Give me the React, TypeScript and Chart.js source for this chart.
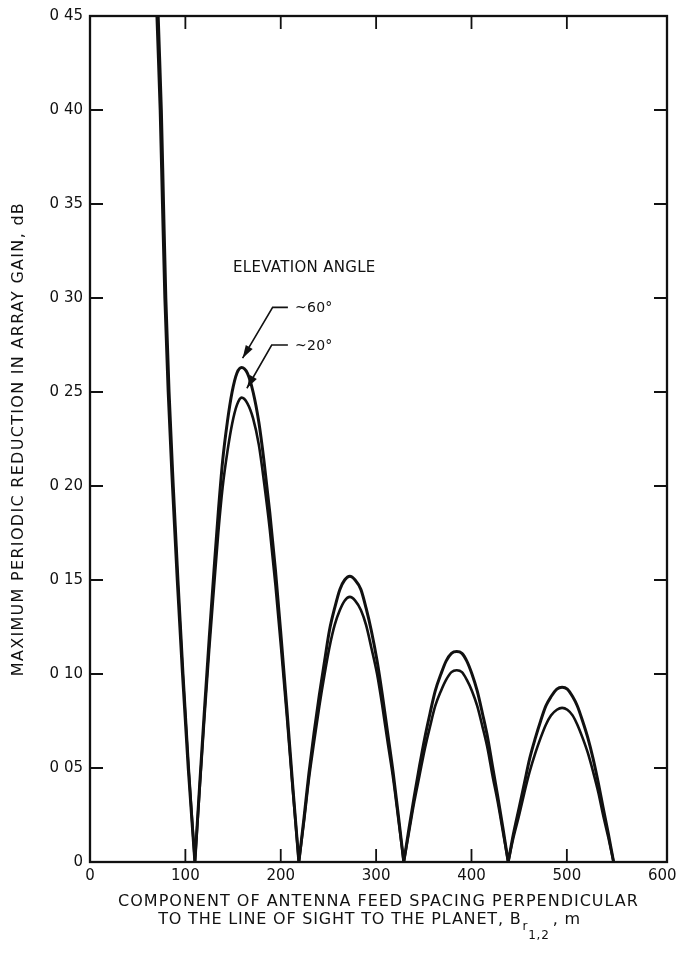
import React, { useEffect, useRef } from "react";
import { Chart, registerables } from "chart.js";

Chart.register(...registerables);

// ---- data ----
const elevationLabels = ["~60°", "~20°"];

// main lobe (both curves nearly coincide)
const mainLobeLevels = [0.5, 0.45, 0.4, 0.35, 0.3, 0.25, 0.2, 0.15, 0.1, 0.05, 0];
const mainLobeSpacing60 = [67.5, 70.2, 73.6, 76, 78.5, 82, 86.5, 91.5, 97, 103, 110];
const mainLobeSpacing20 = [69, 71.7, 75, 77.3, 79.7, 83.1, 87.5, 92.4, 97.7, 103.5, 110];

// side lobes (null = break between lobes)
const sideLobeSpacing = [
  110, 115, 120, 125, 130, 134.5, 139, 144, 149, 154, 159, 165, 171, 177, 182.5, 188.5, 194.5, 200.5, 206.5, 212.5, 219,
  219,
  219, 224.5, 229.5, 235, 240.5, 246, 251, 256.5, 262, 267, 272.5, 278, 284, 289.5, 295, 301, 306.5, 312, 318, 323.5, 329,
  329,
  329, 334.5, 340, 345.5, 351, 356.5, 362, 368, 373.5, 379, 384.5, 390, 395, 400.5, 406, 411.5, 417, 422, 427.5, 433, 438.5,
  438.5,
  438.5, 444, 450, 455.5, 461, 467, 472.5, 478, 483.5, 489.5, 495, 500.5, 506, 511, 516.5, 522, 527.5, 533, 538, 543.5, 549,
];
const sideLobes60 = [
  0, 0.041, 0.081, 0.119, 0.155, 0.186, 0.213, 0.234, 0.25, 0.26, 0.263, 0.26, 0.25, 0.234, 0.213, 0.186, 0.155, 0.119, 0.081, 0.041, 0,
  null,
  0, 0.024, 0.047, 0.069, 0.089, 0.107, 0.123, 0.135, 0.145, 0.15, 0.152, 0.15, 0.145, 0.135, 0.123, 0.107, 0.089, 0.069, 0.047, 0.024, 0,
  null,
  0, 0.018, 0.035, 0.051, 0.066, 0.079, 0.091, 0.1, 0.107, 0.111, 0.112, 0.111, 0.107, 0.1, 0.091, 0.079, 0.066, 0.051, 0.035, 0.018, 0,
  null,
  0, 0.015, 0.029, 0.042, 0.055, 0.066, 0.075, 0.083, 0.088, 0.092, 0.093, 0.092, 0.088, 0.083, 0.075, 0.066, 0.055, 0.042, 0.029, 0.015, 0,
];
const sideLobes20 = [
  0, 0.039, 0.077, 0.113, 0.146, 0.175, 0.199, 0.218, 0.233, 0.243, 0.247, 0.244, 0.236, 0.222, 0.202, 0.177, 0.147, 0.113, 0.077, 0.039, 0,
  null,
  0, 0.022, 0.044, 0.064, 0.083, 0.1, 0.114, 0.126, 0.134, 0.139, 0.141, 0.139, 0.134, 0.126, 0.114, 0.1, 0.083, 0.064, 0.044, 0.022, 0,
  null,
  0, 0.016, 0.032, 0.046, 0.06, 0.072, 0.083, 0.091, 0.097, 0.101, 0.102, 0.101, 0.097, 0.091, 0.083, 0.072, 0.06, 0.046, 0.032, 0.016, 0,
  null,
  0, 0.013, 0.025, 0.037, 0.048, 0.058, 0.066, 0.073, 0.078, 0.081, 0.082, 0.081, 0.078, 0.073, 0.066, 0.058, 0.048, 0.037, 0.025, 0.013, 0,
];

const xTickValues = [0, 100, 200, 300, 400, 500, 600];
const xTickLabels = ["0", "100", "200", "300", "400", "500", "600"];
const yTickValues = [0, 0.05, 0.1, 0.15, 0.2, 0.25, 0.3, 0.35, 0.4, 0.45];
const yTickLabels = ["0", "0 05", "0 10", "0 15", "0 20", "0 25", "0 30", "0 35", "0 40", "0 45"];

const yTitle = "MAXIMUM PERIODIC REDUCTION IN ARRAY GAIN, dB";
const xTitleLine1 = "COMPONENT OF ANTENNA FEED SPACING PERPENDICULAR";
const xTitleLine2 = "TO THE LINE OF SIGHT TO THE PLANET, B";
const xTitleSub = "r";
const xTitleSubSub = "1,2";
const xTitleTail = ", m";
const legendHeading = "ELEVATION ANGLE";

// annotation anchors, in data units
const notes = {
  heading: { x: 150, y: 0.316 },
  pointers: [
    { elbowX: 191.5, elbowY: 0.295, endX: 207.5, tipX: 160, tipY: 0.268 },
    { elbowX: 190.5, elbowY: 0.275, endX: 207.5, tipX: 164.5, tipY: 0.252 },
  ],
};

const INK = "#111111";
const FONT = "'DejaVu Sans', 'Noto Sans', sans-serif";

function setSpacing(ctx: any, px: number) {
  if ("letterSpacing" in ctx) ctx.letterSpacing = `${px}px`;
}

const decorPlugin = {
  id: "decor",
  afterDraw(chart: any) {
    const { ctx, chartArea, scales } = chart;
    const { left, right, top, bottom } = chartArea;
    const xs = scales.x;
    const ys = scales.y;
    ctx.save();
    ctx.strokeStyle = INK;
    ctx.fillStyle = INK;
    // frame
    ctx.lineWidth = 2.3;
    ctx.strokeRect(left, top, right - left, bottom - top);
    // inward ticks on all four sides
    const tl = 13;
    ctx.lineWidth = 1.8;
    ctx.beginPath();
    xTickValues.forEach((v) => {
      if (v <= 0 || v >= 600) return;
      const p = xs.getPixelForValue(v);
      ctx.moveTo(p, bottom);
      ctx.lineTo(p, bottom - tl);
      ctx.moveTo(p, top);
      ctx.lineTo(p, top + tl);
    });
    yTickValues.forEach((v) => {
      if (v <= 0 || v >= 0.45) return;
      const p = ys.getPixelForValue(v);
      ctx.moveTo(left, p);
      ctx.lineTo(left + tl, p);
      ctx.moveTo(right, p);
      ctx.lineTo(right - tl, p);
    });
    ctx.stroke();

    // y axis title (rotated)
    ctx.save();
    ctx.translate(19, (top + bottom) / 2);
    ctx.rotate(-Math.PI / 2);
    ctx.font = `16px ${FONT}`;
    setSpacing(ctx, 1.3);
    ctx.textAlign = "center";
    ctx.textBaseline = "middle";
    ctx.fillText(yTitle, 0, 0);
    ctx.restore();

    // x axis title with subscripts
    const cx = (left + right) / 2;
    ctx.textBaseline = "alphabetic";
    ctx.textAlign = "left";
    setSpacing(ctx, 1);
    ctx.font = `16px ${FONT}`;
    const w1 = ctx.measureText(xTitleLine1).width;
    ctx.fillText(xTitleLine1, cx - w1 / 2, bottom + 44);
    setSpacing(ctx, 0.8);
    const wMain = ctx.measureText(xTitleLine2).width;
    const wTail = ctx.measureText(xTitleTail).width;
    ctx.font = `12px ${FONT}`;
    const wSub = ctx.measureText(xTitleSub).width;
    const wSubSub = ctx.measureText(xTitleSubSub).width;
    const total = wMain + wSub + wSubSub + wTail + 4;
    let sx = cx - total / 2 - 9;
    const base2 = bottom + 62;
    ctx.font = `16px ${FONT}`;
    ctx.fillText(xTitleLine2, sx, base2);
    sx += wMain + 1;
    ctx.font = `12px ${FONT}`;
    ctx.fillText(xTitleSub, sx, base2 + 6);
    ctx.fillText(xTitleSubSub, sx + wSub, base2 + 15);
    ctx.font = `16px ${FONT}`;
    ctx.fillText(xTitleTail, sx + wSub + wSubSub + 3, base2);

    // annotation
    setSpacing(ctx, 0.3);
    ctx.font = `15px ${FONT}`;
    ctx.textBaseline = "middle";
    ctx.fillText(legendHeading, xs.getPixelForValue(notes.heading.x), ys.getPixelForValue(notes.heading.y));
    ctx.font = `14px ${FONT}`;
    notes.pointers.forEach((p, i) => {
      const ex = xs.getPixelForValue(p.elbowX);
      const ey = ys.getPixelForValue(p.elbowY);
      const hx = xs.getPixelForValue(p.endX);
      const tx = xs.getPixelForValue(p.tipX);
      const ty = ys.getPixelForValue(p.tipY);
      ctx.lineWidth = 1.6;
      ctx.beginPath();
      ctx.moveTo(hx, ey);
      ctx.lineTo(ex, ey);
      ctx.lineTo(tx, ty);
      ctx.stroke();
      const ang = Math.atan2(ty - ey, tx - ex);
      const L = 13;
      const W = 4;
      ctx.beginPath();
      ctx.moveTo(tx, ty);
      ctx.lineTo(tx - L * Math.cos(ang) + W * Math.sin(ang), ty - L * Math.sin(ang) - W * Math.cos(ang));
      ctx.lineTo(tx - L * Math.cos(ang) - W * Math.sin(ang), ty - L * Math.sin(ang) + W * Math.cos(ang));
      ctx.closePath();
      ctx.fill();
      ctx.fillText(elevationLabels[i], hx + 7, ey + 1);
    });
    ctx.restore();
  },
};

export default function App() {
  const ref = useRef<HTMLCanvasElement>(null);
  useEffect(() => {
    const canvas = ref.current;
    if (!canvas) return;
    const toPoints = (xs: number[], ys: (number | null)[]) => xs.map((x, i) => ({ x, y: ys[i] }));
    const series60 = [
      ...toPoints(mainLobeSpacing60, mainLobeLevels),
      { x: 110, y: null },
      ...toPoints(sideLobeSpacing, sideLobes60),
    ];
    const series20 = [
      ...toPoints(mainLobeSpacing20, mainLobeLevels),
      { x: 110, y: null },
      ...toPoints(sideLobeSpacing, sideLobes20),
    ];
    const common = {
      borderColor: INK,
      pointRadius: 0,
      fill: false,
      spanGaps: false,
      cubicInterpolationMode: "monotone" as const,
    };
    const chart = new Chart(canvas, {
      type: "line",
      data: {
        datasets: [
          { label: elevationLabels[0], data: series60 as any, borderWidth: 3, ...common },
          { label: elevationLabels[1], data: series20 as any, borderWidth: 2.6, ...common },
        ],
      },
      options: {
        animation: false,
        responsive: false,
        events: [],
        layout: { autoPadding: false, padding: { left: 0, top: 8, right: 19, bottom: 0 } } as any,
        plugins: { legend: { display: false }, tooltip: { enabled: false }, title: { display: false } },
        scales: {
          x: {
            type: "linear",
            min: 0,
            max: 605,
            grid: { display: false, drawTicks: false },
            border: { display: false },
            afterBuildTicks: (s: any) => {
              s.ticks = xTickValues.map((v) => ({ value: v }));
            },
            afterFit: (s: any) => {
              s.height = 92;
            },
            ticks: {
              padding: 5,
              color: INK,
              font: { family: FONT, size: 15 },
              maxRotation: 0,
              callback: (_v: any, i: number) => xTickLabels[i],
            },
          },
          y: {
            type: "linear",
            min: 0,
            max: 0.45,
            grid: { display: false, drawTicks: false },
            border: { display: false },
            afterBuildTicks: (s: any) => {
              s.ticks = yTickValues.map((v) => ({ value: v }));
            },
            afterFit: (s: any) => {
              s.width = 90;
            },
            ticks: {
              padding: 7,
              color: INK,
              font: { family: FONT, size: 15 },
              callback: (_v: any, i: number) => yTickLabels[i],
            },
          },
        },
      },
      plugins: [decorPlugin],
    });
    return () => chart.destroy();
  }, []);
  return (
    <div style={{ position: "absolute", left: 0, top: 0, width: 686, height: 954, background: "#fff" }}>
      <canvas ref={ref} width={686} height={954} style={{ display: "block" }} />
    </div>
  );
}
